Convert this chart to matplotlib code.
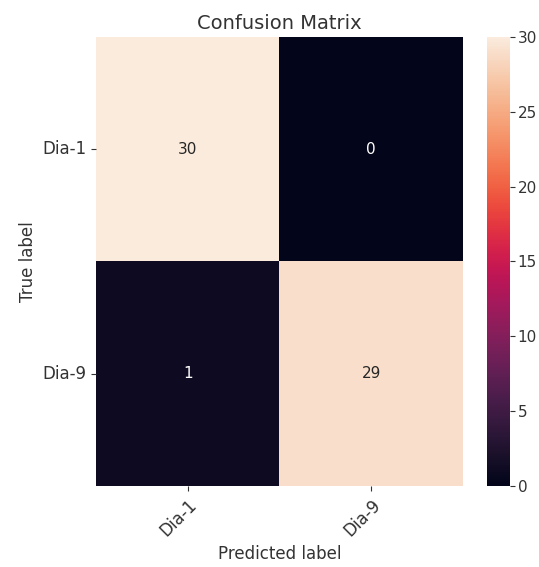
import numpy as np
import matplotlib
matplotlib.use("Agg")
import matplotlib.pyplot as plt
import seaborn as sns

classes = ["Dia-1", "Dia-9"]
cm = np.array([[30, 0],
               [1, 29]])

fig = plt.figure(figsize=(5.39, 5.67), dpi=100)
ax = fig.add_axes([0.178, 0.143, 0.681, 0.792])
cax = fig.add_axes([0.904, 0.143, 0.042, 0.792])

sns.heatmap(cm, annot=True, fmt="d", cmap="rocket", ax=ax, cbar_ax=cax,
            vmin=0, vmax=30, xticklabels=classes, yticklabels=classes,
            annot_kws={"fontsize": 11})

ax.set_title("Confusion Matrix", fontsize=14, color="#333333")
ax.set_xlabel("Predicted label", fontsize=12, color="#333333")
ax.set_ylabel("True label", fontsize=12, color="#333333")
plt.setp(ax.get_xticklabels(), rotation=45, ha="right", rotation_mode="anchor")
plt.setp(ax.get_yticklabels(), rotation=0)
ax.tick_params(labelsize=12, colors="#333333")
cax.tick_params(labelsize=11, colors="#333333", pad=2)
cax.set_yticks([0, 5, 10, 15, 20, 25, 30])

fig.savefig("out.png", dpi=100)
